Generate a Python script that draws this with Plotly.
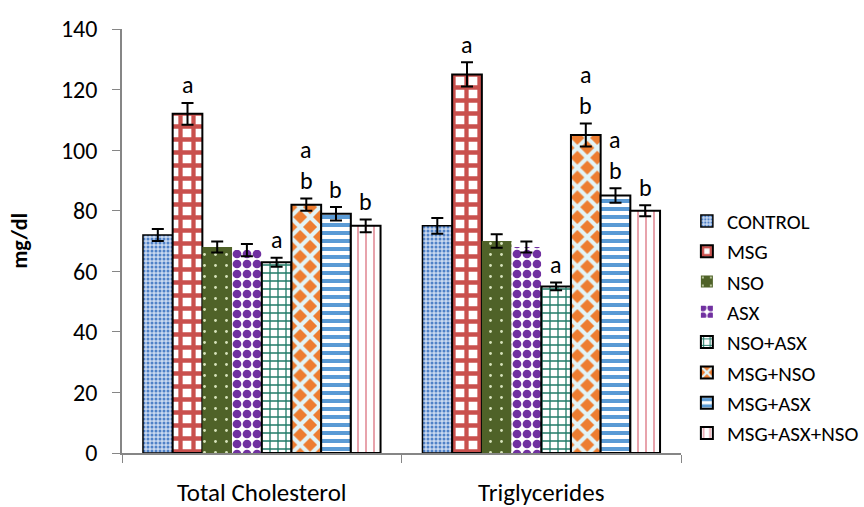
import plotly.graph_objects as go

categories = ["Total Cholesterol", "Triglycerides"]
groups = ["CONTROL", "MSG", "NSO", "ASX", "NSO+ASX", "MSG+NSO", "MSG+ASX", "MSG+ASX+NSO"]
tc_values = [72, 112, 68, 67, 63, 82, 79, 75]
tg_values = [75, 125, 70, 68, 55, 105, 85, 80]
tc_err = [2.0, 3.6, 1.8, 2.0, 1.5, 2.0, 2.2, 2.1]
tg_err = [2.6, 4.0, 2.2, 1.8, 1.3, 3.8, 2.4, 1.8]
tc_letters = ["", "a", "", "", "a", "ab", "b", "b"]
tg_letters = ["", "a", "", "", "a", "ab", "ab", "b"]
y_ticks = [0, 20, 40, 60, 80, 100, 120, 140]

FONT = "Carlito, Lato, 'Open Sans', sans-serif"

styles = [
    dict(shape=".", bg="#C9D9F0", fg="#4F81C7", size=4, solidity=0.45, line=1.5),
    dict(shape="+", bg="#FFFFFF", fg="#C9504D", size=13, solidity=0.55, line=2),
    dict(shape=".", bg="#4F6228", fg="#D8E4BC", size=11, solidity=0.05, line=0),
    dict(shape=".", bg="#FFFFFF", fg="#7030A0", size=10, solidity=0.6, line=0),
    dict(shape="+", bg="#FFFFFF", fg="#1F7A68", size=8, solidity=0.3, line=2),
    dict(shape="x", bg="#ED7D31", fg="#E2F4F7", size=14, solidity=0.5, line=2),
    dict(shape="-", bg="#FFFFFF", fg="#5B9BD5", size=8, solidity=0.5, line=2),
    dict(shape="|", bg="#FFFFFF", fg="#E8A3AC", size=8, solidity=0.25, line=2),
]

fig = go.Figure()
for i, g in enumerate(groups):
    s = styles[i]
    fig.add_trace(go.Bar(
        name=g,
        x=categories,
        y=[tc_values[i], tg_values[i]],
        error_y=dict(type="data", array=[tc_err[i], tg_err[i]], color="black", thickness=2, width=6),
        marker=dict(
            color=s["bg"],
            line=dict(color="black", width=s["line"]),
            pattern=dict(shape=s["shape"], fgcolor=s["fg"], bgcolor=s["bg"], size=s["size"],
                         solidity=s["solidity"], fillmode="replace"),
        ),
        legendgroup=g,
    ))

bargap = 0.15
n = len(groups)
bw = (1 - bargap) / n
annotations = []
for ci, (vals, errs, letters) in enumerate([(tc_values, tc_err, tc_letters), (tg_values, tg_err, tg_letters)]):
    for i in range(n):
        xpos = ci - (1 - bargap) / 2 + (i + 0.5) * bw
        lets = letters[i]
        for k, ch in enumerate(reversed(lets)):
            annotations.append(dict(
                x=xpos, y=vals[i] + errs[i], xref="x", yref="y",
                text=ch, showarrow=False, yanchor="middle",
                yshift=18 + 31 * k, font=dict(family=FONT, size=24, color="black"),
            ))

annotations.append(dict(
    x=-0.185, y=0.5, xref="paper", yref="paper", text="<b>mg/dl</b>", textangle=-90,
    xanchor="center", yanchor="middle",
    showarrow=False, font=dict(family=FONT, size=22, color="black"),
))

fig.update_layout(
    width=864, height=507,
    margin=dict(l=122, r=183, t=29, b=54, autoexpand=False),
    paper_bgcolor="white", plot_bgcolor="white",
    barmode="group", bargap=bargap, bargroupgap=0,
    font=dict(family=FONT, size=20, color="black"),
    showlegend=True,
    legend=dict(xref="container", yref="container", x=0.795, y=0.604,
                xanchor="left", yanchor="top", traceorder="normal",
                tracegroupgap=4.5, font=dict(family=FONT, size=21, color="black"),
                bgcolor="rgba(0,0,0,0)"),
    annotations=annotations,
    xaxis=dict(type="category", showline=True, linecolor="#868686", linewidth=1.5,
               ticks="outside", tickson="boundaries", ticklen=8, tickcolor="#868686",
               tickfont=dict(family=FONT, size=25, color="black"), ticklabelstandoff=16,
               showgrid=False, automargin=False),
    yaxis=dict(range=[0, 140], tickvals=y_ticks, showline=True, linecolor="#868686", linewidth=1.5,
               ticks="outside", ticklen=8, tickcolor="#868686", showgrid=False, zeroline=False,
               tickfont=dict(family=FONT, size=24, color="black"), ticklabelstandoff=10,
               automargin=False),
)

fig.write_html("out.html", config={"displayModeBar": False},
               post_script="document.body.style.margin='0';document.body.style.overflow='hidden';")
